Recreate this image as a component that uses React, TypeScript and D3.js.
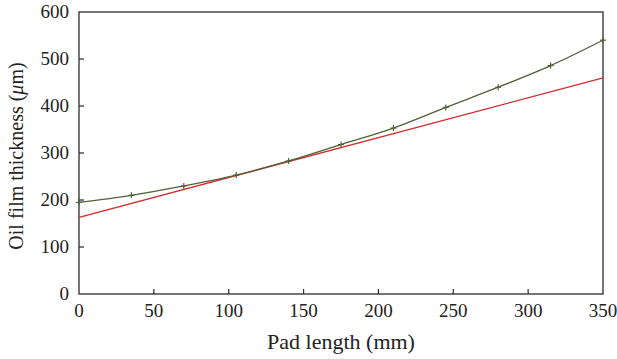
import React from "react";
import * as d3 from "d3";

const padLength = [0, 35, 70, 105, 140, 175, 210, 245, 280, 315, 350];
const filmThickness = [195, 210, 230, 253, 283, 318, 353, 397, 440, 486, 540];
const fitX = [0, 350];
const fitY = [163, 460];
const xTicks = [0, 50, 100, 150, 200, 250, 300, 350];
const yTicks = [0, 100, 200, 300, 400, 500, 600];

const W = 617;
const H = 359;
const M = { left: 79, right: 14, top: 12, bottom: 65 };

export default function App() {
  const x = d3.scaleLinear().domain([0, 350]).range([M.left, W - M.right]);
  const y = d3.scaleLinear().domain([0, 600]).range([H - M.bottom, M.top]);
  const green = "#4e6237";
  const red = "#d42a2e";
  const axis = "#2b2b2b";
  const font = "'Liberation Serif', 'DejaVu Serif', serif";

  const greenLine = d3
    .line<number>()
    .x((_, i) => x(padLength[i]))
    .y((d) => y(d))
    .curve(d3.curveMonotoneX)(filmThickness);
  const redLine = d3
    .line<number>()
    .x((_, i) => x(fitX[i]))
    .y((d) => y(d))(fitY);

  const [x0, x1] = x.range();
  const [y0, y1] = y.range();

  return (
    <svg
      width={W}
      height={H}
      style={{ position: "absolute", left: 0, top: 0, background: "#fff" }}
      fontFamily={font}
    >
      <rect x={0} y={0} width={W} height={H} fill="#fff" />
      <rect
        x={x0}
        y={y1}
        width={x1 - x0}
        height={y0 - y1}
        fill="none"
        stroke={axis}
        strokeWidth={1.3}
      />
      {xTicks.map((t) => (
        <g key={"x" + t}>
          {t !== 0 && t !== 350 && (
            <line x1={x(t)} x2={x(t)} y1={y0} y2={y0 - 5} stroke={axis} strokeWidth={1.2} />
          )}
          <text x={x(t)} y={y0 + 23} textAnchor="middle" fontSize={19} fill="#222">
            {t}
          </text>
        </g>
      ))}
      {yTicks.map((t) => (
        <g key={"y" + t}>
          {t !== 0 && t !== 600 && (
            <line x1={x0} x2={x0 + 5} y1={y(t)} y2={y(t)} stroke={axis} strokeWidth={1.2} />
          )}
          <text x={x0 - 10} y={y(t) + 6} textAnchor="end" fontSize={19} fill="#222">
            {t}
          </text>
        </g>
      ))}
      <path d={redLine || ""} fill="none" stroke={red} strokeWidth={1.3} />
      <path d={greenLine || ""} fill="none" stroke={green} strokeWidth={1.3} />
      {padLength.map((p, i) => (
        <g key={"m" + i} stroke={green} strokeWidth={1.2}>
          <line x1={x(p) - 3} x2={x(p) + 3} y1={y(filmThickness[i])} y2={y(filmThickness[i])} />
          <line x1={x(p)} x2={x(p)} y1={y(filmThickness[i]) - 3} y2={y(filmThickness[i]) + 3} />
        </g>
      ))}
      <text x={(x0 + x1) / 2} y={349} textAnchor="middle" fontSize={22} fill="#222">
        Pad length (mm)
      </text>
      <text
        transform={`translate(23, ${(y0 + y1) / 2 + 3}) rotate(-90)`}
        textAnchor="middle"
        fontSize={20}
        fill="#222"
      >
        Oil film thickness (<tspan fontStyle="italic">μ</tspan>m)
      </text>
    </svg>
  );
}
